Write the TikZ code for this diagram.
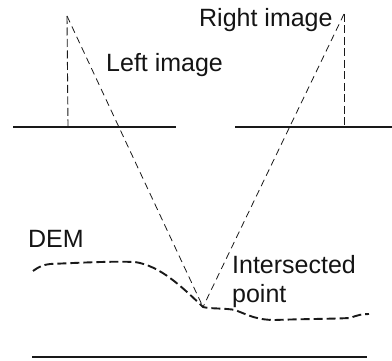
\documentclass[tikz,border=0pt]{standalone}
\usepackage{fontspec}
\setmainfont{Liberation Sans}
\tikzset{
  base/.style={draw=black!90,line width=2pt},
  ray/.style={draw=black!90,line width=0.8pt,dash pattern=on 7pt off 4.5pt},
  drop/.style={draw=black!90,line width=0.9pt,dash pattern=on 8pt off 3.5pt},
  dem/.style={draw=black!90,line width=1.9pt,dash pattern=on 9pt off 4pt},
  lab/.style={anchor=base west,inner sep=0pt,text=black!92,font=\fontsize{25}{28}\selectfont}
}
\begin{document}
\begin{tikzpicture}[x=1pt,y=-1pt]
\useasboundingbox (0,0) rectangle (392,361);
\coordinate (la) at (67,16);
\coordinate (lf) at (68,126);
\coordinate (ra) at (344,14);
\coordinate (rf) at (344,125);
\coordinate (p) at (203,307);
\coordinate (l1) at (13,127.5);
\coordinate (l2) at (176,127.5);
\coordinate (r1) at (235,127);
\coordinate (r2) at (392,127);
\coordinate (b1) at (32,357);
\coordinate (b2) at (367,357);
\draw[base] (l1) -- (l2);
\draw[base] (r1) -- (r2);
\draw[base] (b1) -- (b2);
\draw[drop] (la) -- (lf);
\draw[drop] (ra) -- (rf);
\draw[ray] (la) -- (p);
\draw[ray] (ra) -- (p);
\draw[dem] (33,271) .. controls (40,266) and (43,265) .. (50,264)
  .. controls (75,263) and (110,261) .. (135,262)
  .. controls (160,266) and (180,285) .. (203,307)
  .. controls (210,309) and (225,308) .. (235,310)
  .. controls (250,316) and (258,320) .. (275,320)
  .. controls (300,319) and (330,319) .. (350,318)
  .. controls (358,315) and (362,314) .. (369,314);
\node[lab] (left) at (106,72) {Left image};
\node[lab] (right) at (199,27) {Right image};
\node[lab] (demlab) at (28,248) {DEM};
\node[lab] (ip1) at (232,274) {Intersected};
\node[lab] (ip2) at (232,303) {point};
\end{tikzpicture}
\end{document}
